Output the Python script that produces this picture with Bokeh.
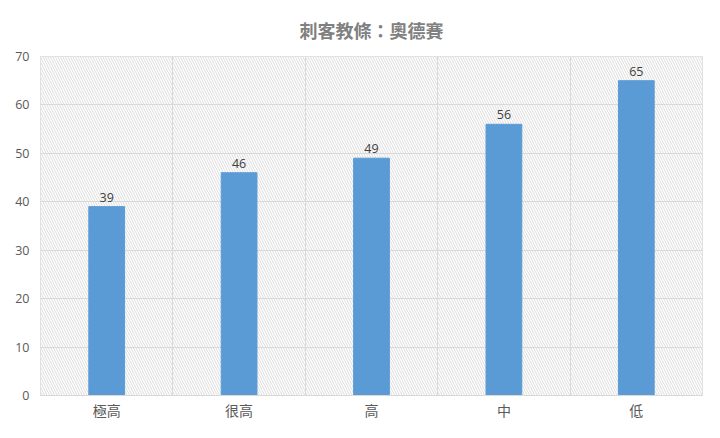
from bokeh.plotting import figure
from bokeh.embed import file_html
from bokeh.resources import INLINE
from bokeh.models import ColumnDataSource, FixedTicker, Grid, LabelSet
from bokeh.core.properties import value

title_text = "刺客教條：奧德賽"
categories = ["極高", "很高", "高", "中", "低"]
values = [39, 46, 49, 56, 65]
y_ticks = [0, 10, 20, 30, 40, 50, 60, 70]

xs = [i + 0.5 for i in range(len(categories))]
src = ColumnDataSource(dict(x=xs, top=values, label=[str(v) for v in values]))

p = figure(width=704, height=422, output_backend="svg", toolbar_location=None,
           x_range=(0, len(categories)), y_range=(0, 70),
           min_border_left=40, min_border_right=2, min_border_top=56, min_border_bottom=24,
           title=title_text)
p.title.align = "center"
p.title.text_font = "Noto Sans CJK TC"
p.title.text_font_size = "18px"
p.title.text_color = "#808080"
p.title.text_font_style = "bold"
p.title.standoff = 28
p.outline_line_color = "#d9d9d9"
p.border_fill_color = "white"
p.background_fill_color = "white"

# hatched plot area
p.quad(left=[0], right=[len(categories)], bottom=[0], top=[70], fill_color="white",
       line_color=None, hatch_pattern="left_diagonal_line", hatch_color="#dcdcdc",
       hatch_scale=5, hatch_weight=1, level="image")

p.vbar(x="x", top="top", width=0.27, source=src, fill_color="#5b9bd5", line_color="#5b9bd5")

labels = LabelSet(x="x", y="top", text="label", source=src, text_align="center",
                  text_baseline="bottom", y_offset=5, text_font_size="12.5px",
                  text_color="#404040", text_font=value("Open Sans"))
p.add_layout(labels)

# axes
p.xaxis.ticker = FixedTicker(ticks=xs)
p.xaxis.major_label_overrides = {x: c for x, c in zip(xs, categories)}
p.xaxis.major_label_text_font = "Noto Sans CJK TC"
p.xaxis.major_label_text_font_size = "14px"
p.xaxis.major_label_text_color = "#595959"
p.xaxis.axis_line_color = "#d9d9d9"
p.xaxis.major_tick_line_color = None
p.xaxis.minor_tick_line_color = None
p.xaxis.major_tick_out = 0
p.xaxis.major_tick_in = 0
p.xaxis.minor_tick_out = 0
p.xaxis.major_label_standoff = 4

p.yaxis.ticker = FixedTicker(ticks=y_ticks)
p.yaxis.major_label_text_font = "Open Sans"
p.yaxis.major_label_text_font_size = "12.5px"
p.yaxis.major_label_text_color = "#595959"
p.yaxis.axis_line_color = None
p.yaxis.major_tick_line_color = None
p.yaxis.minor_tick_line_color = None
p.yaxis.major_tick_out = 0
p.yaxis.major_tick_in = 0
p.yaxis.minor_tick_out = 0
p.yaxis.major_label_standoff = 11

p.xgrid.grid_line_color = None
p.ygrid.grid_line_color = "#d9d9d9"
p.add_layout(Grid(dimension=0, ticker=FixedTicker(ticks=list(range(len(categories) + 1))),
                  grid_line_color="#d9d9d9"))

open("out.html", "w").write(file_html(p, INLINE))
